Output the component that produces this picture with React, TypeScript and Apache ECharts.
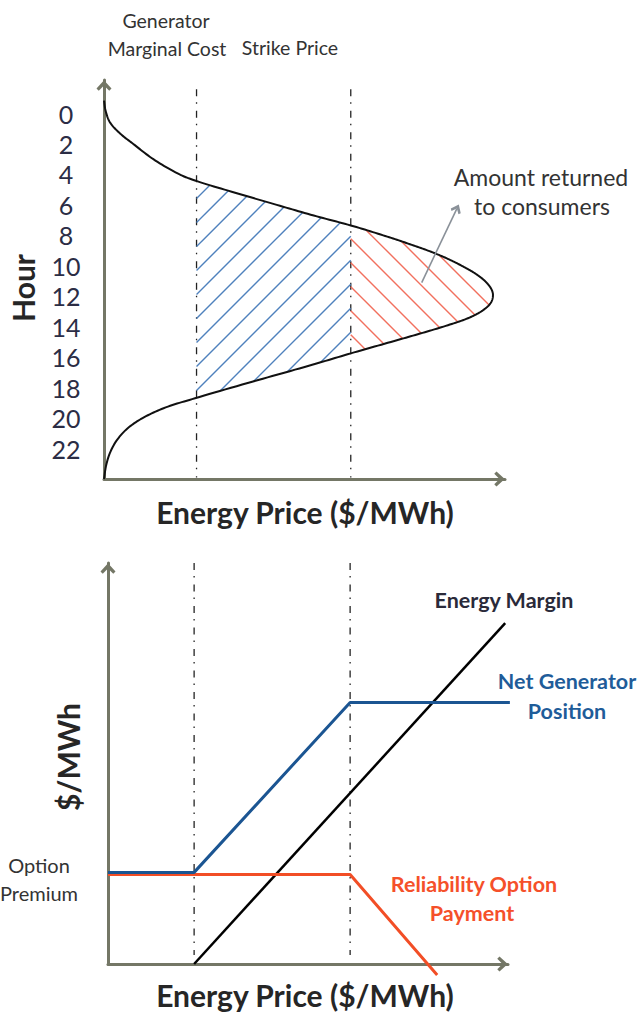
import React, { useEffect, useRef } from "react";
import * as echarts from "echarts";

// ---------- data ----------
const hourTicks = [0, 2, 4, 6, 8, 10, 12, 14, 16, 18, 20, 22];
const curveHours = [
  -0.85, -0.2, 0.57, 1.31, 2.0, 3.0, 4.0, 4.4, 5.2, 6.0, 6.7, 7.35, 8.0, 8.5, 9.0, 9.5, 10.0, 10.5, 11.0, 11.5, 11.9,
  12.4, 12.9, 13.4, 13.9, 14.45, 15.0, 15.75, 16.5, 17.5, 18.7, 19.3, 20.0, 20.7, 21.5, 22.3, 23.1, 24,
];
const curvePrices = [
  0, 0.5, 1.9, 5.2, 9.5, 16, 24.5, 29.5, 42.5, 56, 68, 80, 90.5, 98, 105, 111, 116, 120.3, 123.5, 125.5, 126.1,
  125.5, 123, 118.5, 111.5, 102.5, 93, 80, 67.5, 50, 29.5, 20, 12.5, 7.5, 4.0, 1.9, 0.7, 0,
];
const marginalCost = 30;
const strikePrice = 80;
const optionPremium = 26.5;

const energyMarginX = [30, 129.7];
const energyMarginY = [0, 99.7];
const netGenX = [2.4, 30, 80, 131.2];
const netGenY = [26.8, 26.8, 76.5, 76.5];
const relOptX = [2.4, 80, 107.9];
const relOptY = [26.2, 26.2, -3.2];

// ---------- helpers ----------
const FONT = "Lato";
const AXIS_COLOR = "#747766";
const CHEVRON = "path://M5,0 L10,5.5 L8.5,7 L5,3.5 L1.5,7 L0,5.5 Z";

// centripetal Catmull-Rom through pixel points
function ccr(pts: number[][], steps: number) {
  const n = pts.length;
  const ext = [
    [2 * pts[0][0] - pts[1][0], 2 * pts[0][1] - pts[1][1]],
    ...pts,
    [2 * pts[n - 1][0] - pts[n - 2][0], 2 * pts[n - 1][1] - pts[n - 2][1]],
  ];
  const d = (a: number[], b: number[]) => Math.max(1e-6, Math.pow(Math.hypot(b[0] - a[0], b[1] - a[1]), 0.5));
  const out: number[][] = [];
  for (let i = 1; i < ext.length - 2; i++) {
    const p0 = ext[i - 1], p1 = ext[i], p2 = ext[i + 1], p3 = ext[i + 2];
    const t0 = 0, t1 = d(p0, p1), t2 = t1 + d(p1, p2), t3 = t2 + d(p2, p3);
    for (let s = 0; s < steps; s++) {
      const t = t1 + ((t2 - t1) * s) / steps;
      const lerp = (a: number[], b: number[], ta: number, tb: number) => [
        ((tb - t) / (tb - ta)) * a[0] + ((t - ta) / (tb - ta)) * b[0],
        ((tb - t) / (tb - ta)) * a[1] + ((t - ta) / (tb - ta)) * b[1],
      ];
      const A1 = lerp(p0, p1, t0, t1), A2 = lerp(p1, p2, t1, t2), A3 = lerp(p2, p3, t2, t3);
      const B1 = lerp(A1, A2, t0, t2), B2 = lerp(A2, A3, t1, t3);
      out.push(lerp(B1, B2, t1, t2));
    }
  }
  out.push(pts[n - 1]);
  return out;
}

function region(D: number[][], xL: number, xR: number) {
  const out: number[][] = [];
  for (let i = 0; i < D.length; i++) {
    const p = D[i];
    if (i > 0) {
      const q = D[i - 1];
      for (const xc of [xL, xR]) {
        if (isFinite(xc) && (q[0] - xc) * (p[0] - xc) < 0) {
          const t = (xc - q[0]) / (p[0] - q[0]);
          out.push([xc, q[1] + t * (p[1] - q[1])]);
        }
      }
    }
    if (p[0] >= xL) out.push([Math.min(p[0], xR), p[1]]);
  }
  return out;
}

function hatch(poly: number[][], a: number, b: number, step: number, phase: number, color: string) {
  const res: any[] = [];
  if (poly.length < 3) return res;
  const fv = poly.map((p) => a * p[0] + b * p[1]);
  const mn = Math.min(...fv), mx = Math.max(...fv);
  const k0 = Math.ceil((mn - phase) / step), k1 = Math.floor((mx - phase) / step);
  for (let k = k0; k <= k1; k++) {
    const c = phase + k * step;
    const hits: number[][] = [];
    for (let i = 0; i < poly.length; i++) {
      const P = poly[i], Q = poly[(i + 1) % poly.length];
      const fP = a * P[0] + b * P[1] - c, fQ = a * Q[0] + b * Q[1] - c;
      if ((fP < 0) !== (fQ < 0)) {
        const t = fP / (fP - fQ);
        hits.push([P[0] + t * (Q[0] - P[0]), P[1] + t * (Q[1] - P[1])]);
      }
    }
    hits.sort((u, v) => u[0] - v[0]);
    for (let j = 0; j + 1 < hits.length; j += 2) {
      res.push({
        type: "line",
        shape: { x1: hits[j][0], y1: hits[j][1], x2: hits[j + 1][0], y2: hits[j + 1][1] },
        style: { stroke: color, lineWidth: 1.4 },
      });
    }
  }
  return res;
}

const pairs = (xs: number[], ys: number[]) => xs.map((x, i) => [x, ys[i]]);

function txt(text: string, x: number, y: number, size: number, color: string, bold = false, rotation = 0) {
  return {
    type: "text",
    x, y, rotation,
    style: { text, fill: color, font: `${bold ? "bold " : ""}${size}px ${FONT}`, align: "center", verticalAlign: "middle" },
  };
}

const dashDot = { color: "#222", width: 1.3, type: [7, 6, 1.5, 7] as any };

export default function App() {
  const ref = useRef<HTMLDivElement>(null);
  useEffect(() => {
    if (!ref.current) return;
    const chart = echarts.init(ref.current, undefined, { renderer: "svg" });
    const axisBase = {
      type: "value",
      axisTick: { show: false },
      axisLabel: { show: false },
      splitLine: { show: false },
    };
    const axisLineEnd = { onZero: false, lineStyle: { color: AXIS_COLOR, width: 3 }, symbol: ["none", CHEVRON], symbolSize: [15, 11], symbolOffset: [0, -5.5] };
    const option: any = {
      animation: false,
      backgroundColor: "#fff",
      grid: [
        { left: 104, right: 136, top: 80, bottom: 533, outerBoundsMode: "none" },
        { left: 108, right: 133, top: 563, bottom: 48, outerBoundsMode: "none" },
      ],
      xAxis: [
        { ...axisBase, gridIndex: 0, min: 0, max: 130, axisLine: axisLineEnd },
        { ...axisBase, gridIndex: 1, min: 2.4, max: 130.6, axisLine: axisLineEnd },
      ],
      yAxis: [
        {
          ...axisBase, gridIndex: 0, min: -2.2, max: 24, inverse: true,
          axisLine: axisLineEnd,
          axisLabel: { show: true, customValues: hourTicks, margin: 38, align: "center", verticalAlign: "middle", fontSize: 25, fontFamily: FONT, color: "#2b2d45" },
        },
        { ...axisBase, gridIndex: 1, min: 0, max: 117.3, axisLine: axisLineEnd },
      ],
      series: [
        {
          type: "custom", xAxisIndex: 0, yAxisIndex: 0, z: 3, silent: true,
          data: [[0, 0]],
          renderItem: (params: any, api: any) => {
            const pts = curveHours.map((h, i) => api.coord([curvePrices[i], h]));
            const D = ccr(pts, 12);
            const xMC = api.coord([marginalCost, 0])[0];
            const xSP = api.coord([strikePrice, 0])[0];
            const blue = region(D, xMC, xSP);
            const red = region(D, xSP, Infinity);
            return {
              type: "group",
              children: [
                ...hatch(blue, 1, 1, 24, 395, "#4f81bd"),
                ...hatch(red, 1, -1, 24, 112, "#f2705e"),
                { type: "polyline", shape: { points: D }, style: { stroke: "#111", lineWidth: 2, fill: "none" } },
              ],
            };
          },
        },
        {
          type: "line", xAxisIndex: 0, yAxisIndex: 0, z: 2, symbol: "none",
          data: [[marginalCost, -1.6], [marginalCost, 23.9]], lineStyle: dashDot,
        },
        {
          type: "line", xAxisIndex: 0, yAxisIndex: 0, z: 2, symbol: "none",
          data: [[strikePrice, -1.6], [strikePrice, 23.9]], lineStyle: dashDot,
        },
        {
          type: "line", xAxisIndex: 0, yAxisIndex: 0, z: 4, symbol: "none", data: [],
          markLine: {
            silent: true, symbol: ["none", CHEVRON], symbolSize: [11, 9], label: { show: false },
            lineStyle: { color: "#8a9199", width: 1.6, type: "solid" },
            data: [[{ coord: [103, 11.1] }, { coord: [114.4, 6.24] }]],
          },
        },
        {
          type: "line", xAxisIndex: 1, yAxisIndex: 1, z: 2, symbol: "none",
          data: [[marginalCost, 117.3], [marginalCost, 2.6]], lineStyle: dashDot,
        },
        {
          type: "line", xAxisIndex: 1, yAxisIndex: 1, z: 2, symbol: "none",
          data: [[strikePrice, 117.3], [strikePrice, 2.6]], lineStyle: dashDot,
        },
        {
          type: "line", xAxisIndex: 1, yAxisIndex: 1, z: 2, symbol: "none", clip: false,
          data: [[-6.4, optionPremium], [1.2, optionPremium]], lineStyle: { color: "#666", width: 1.2, type: [5, 4] },
        },
        {
          type: "line", xAxisIndex: 1, yAxisIndex: 1, z: 3, symbol: "none", clip: false,
          data: pairs(energyMarginX, energyMarginY), lineStyle: { color: "#000", width: 2.5 },
        },
        {
          type: "line", xAxisIndex: 1, yAxisIndex: 1, z: 4, symbol: "none", clip: false,
          data: pairs(relOptX, relOptY), lineStyle: { color: "#f24e26", width: 3 },
        },
        {
          type: "line", xAxisIndex: 1, yAxisIndex: 1, z: 5, symbol: "none", clip: false,
          data: pairs(netGenX, netGenY), lineStyle: { color: "#1b5592", width: 3 },
        },
      ],
      graphic: [
        txt("Generator", 166, 20, 19.5, "#333"),
        txt("Marginal Cost", 167, 48, 19.5, "#333"),
        txt("Strike Price", 290, 47, 19.5, "#333"),
        txt("Amount returned", 541, 177, 23, "#333"),
        txt("to consumers", 542, 206, 23, "#333"),
        txt("Hour", 23, 288, 30, "#262626", true, Math.PI / 2),
        txt("Energy Price ($/MWh)", 305, 512, 30, "#262626", true),
        txt("Energy Margin", 504, 600, 21.5, "#2a2a3a", true),
        txt("Net Generator", 567, 681, 21.5, "#1f5c99", true),
        txt("Position", 567, 711, 21.5, "#1f5c99", true),
        txt("Reliability Option", 474, 884, 21.5, "#f5502a", true),
        txt("Payment", 472, 913, 21.5, "#f5502a", true),
        txt("Option", 39, 865, 20, "#333"),
        txt("Premium", 39, 893, 20, "#333"),
        txt("$/MWh", 68, 757, 30, "#262626", true, Math.PI / 2),
        txt("Energy Price ($/MWh)", 305, 995, 30, "#262626", true),
      ],
    };
    chart.setOption(option);
    return () => chart.dispose();
  }, []);
  return <div ref={ref} style={{ position: "fixed", left: 0, top: 0, width: 641, height: 1012 }} />;
}
